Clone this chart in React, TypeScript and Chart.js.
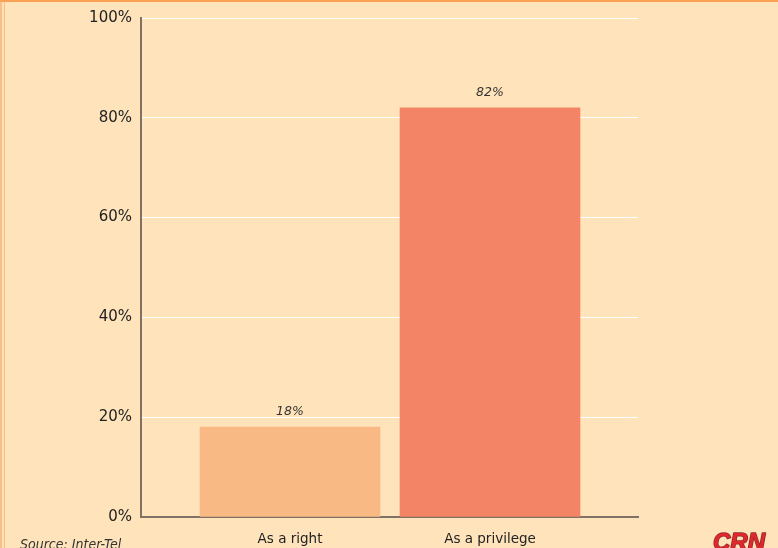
import React, { useEffect, useRef } from "react";
import { Chart, registerables } from "chart.js";

Chart.register(...registerables);

// Survey answers: how remote/mobile access is viewed
const categories = ["As a right", "As a privilege"];
const shares = [18, 82];
const barColors = ["#F8B985", "#F48466"];
const yTicks = [0, 20, 40, 60, 80, 100];
const sourceNote = "Source: Inter-Tel";
const brand = "CRN";

const BG = "#FFE4BB";
const AXIS = "#7F7265";
const TEXT = "#222222";
const FONT = "'DejaVu Sans', 'Liberation Sans', Arial, sans-serif";

const valueLabels = {
  id: "valueLabels",
  afterDatasetsDraw(chart: any) {
    const { ctx } = chart;
    const meta = chart.getDatasetMeta(0);
    ctx.save();
    ctx.font = "italic 12.5px " + FONT;
    ctx.fillStyle = "#333333";
    ctx.textAlign = "center";
    ctx.textBaseline = "bottom";
    meta.data.forEach((bar: any, i: number) => {
      ctx.fillText(shares[i] + "%", bar.x, bar.y - 9);
    });
    ctx.restore();
  },
};

const footer = {
  id: "footer",
  afterDraw(chart: any) {
    const { ctx, width, height } = chart;
    ctx.save();
    ctx.font = "italic 14px 'Liberation Sans Narrow', 'DejaVu Sans Condensed', sans-serif";
    ctx.fillStyle = "#333333";
    ctx.textAlign = "left";
    ctx.textBaseline = "alphabetic";
    ctx.fillText(sourceNote, 20, height + 1);

    ctx.font = "italic bold 24px 'Liberation Sans', Arial, sans-serif";
    ctx.textAlign = "right";
    ctx.lineJoin = "round";
    ctx.lineWidth = 1.5;
    ctx.strokeStyle = "#8A2A2A";
    ctx.strokeText(brand, width - 13, height + 2);
    ctx.fillStyle = "#E2262E";
    ctx.fillText(brand, width - 13, height + 2);
    ctx.restore();
  },
};

const background = {
  id: "background",
  beforeDraw(chart: any) {
    const { ctx, width, height } = chart;
    ctx.save();
    ctx.fillStyle = BG;
    ctx.fillRect(0, 0, width, height);
    ctx.fillStyle = "#FBBE86";
    ctx.fillRect(0, 0, 2, height);
    ctx.fillRect(4, 0, 1, height);
    ctx.fillStyle = "#F9A257";
    ctx.fillRect(0, 0, width, 2);
    ctx.restore();
  },
};

export default function App() {
  const ref = useRef<HTMLCanvasElement | null>(null);

  useEffect(() => {
    if (!ref.current) return;
    const chart = new Chart(ref.current, {
      type: "bar",
      data: {
        datasets: [
          {
            data: shares.map((v, i) => ({ x: i + 1, y: v })),
            backgroundColor: barColors,
            barThickness: 180,
            borderWidth: 0,
          },
        ],
      },
      options: {
        animation: false,
        responsive: false,
        maintainAspectRatio: false,
        layout: { padding: { top: 18, right: 140, left: 0, bottom: 0 } },
        plugins: { legend: { display: false }, tooltip: { enabled: false } },
        scales: {
          x: {
            type: "linear",
            offset: false,
            min: 0.255,
            max: 2.74,
            afterBuildTicks(scale: any) {
              scale.ticks = categories.map((_, i) => ({ value: i + 1 }));
            },
            afterFit(scale: any) {
              scale.height = 31;
            },
            ticks: {
              autoSkip: false,
              maxRotation: 0,
              padding: 14,
              color: TEXT,
              font: { family: FONT, size: 13.5 },
              callback: (v: any) => categories[Math.round(Number(v)) - 1] ?? "",
            },
            grid: { display: false, drawTicks: false },
            border: { display: true, color: AXIS, width: 2 },
          },
          y: {
            min: 0,
            max: 100,
            afterBuildTicks(scale: any) {
              scale.ticks = yTicks.map((v) => ({ value: v }));
            },
            afterFit(scale: any) {
              scale.width = 141;
            },
            ticks: {
              padding: 9,
              color: TEXT,
              font: { family: FONT, size: 15 },
              callback: (v: any) => v + "%",
            },
            grid: { color: "#FFFFFF", lineWidth: 1, drawTicks: false },
            border: { display: true, color: AXIS, width: 2 },
          },
        },
      },
      plugins: [background, valueLabels, footer],
    });
    return () => chart.destroy();
  }, []);

  return (
    <div style={{ position: "fixed", left: 0, top: 0, width: 778, height: 548, background: BG }}>
      <canvas ref={ref} width={778} height={548} style={{ display: "block" }} />
    </div>
  );
}
